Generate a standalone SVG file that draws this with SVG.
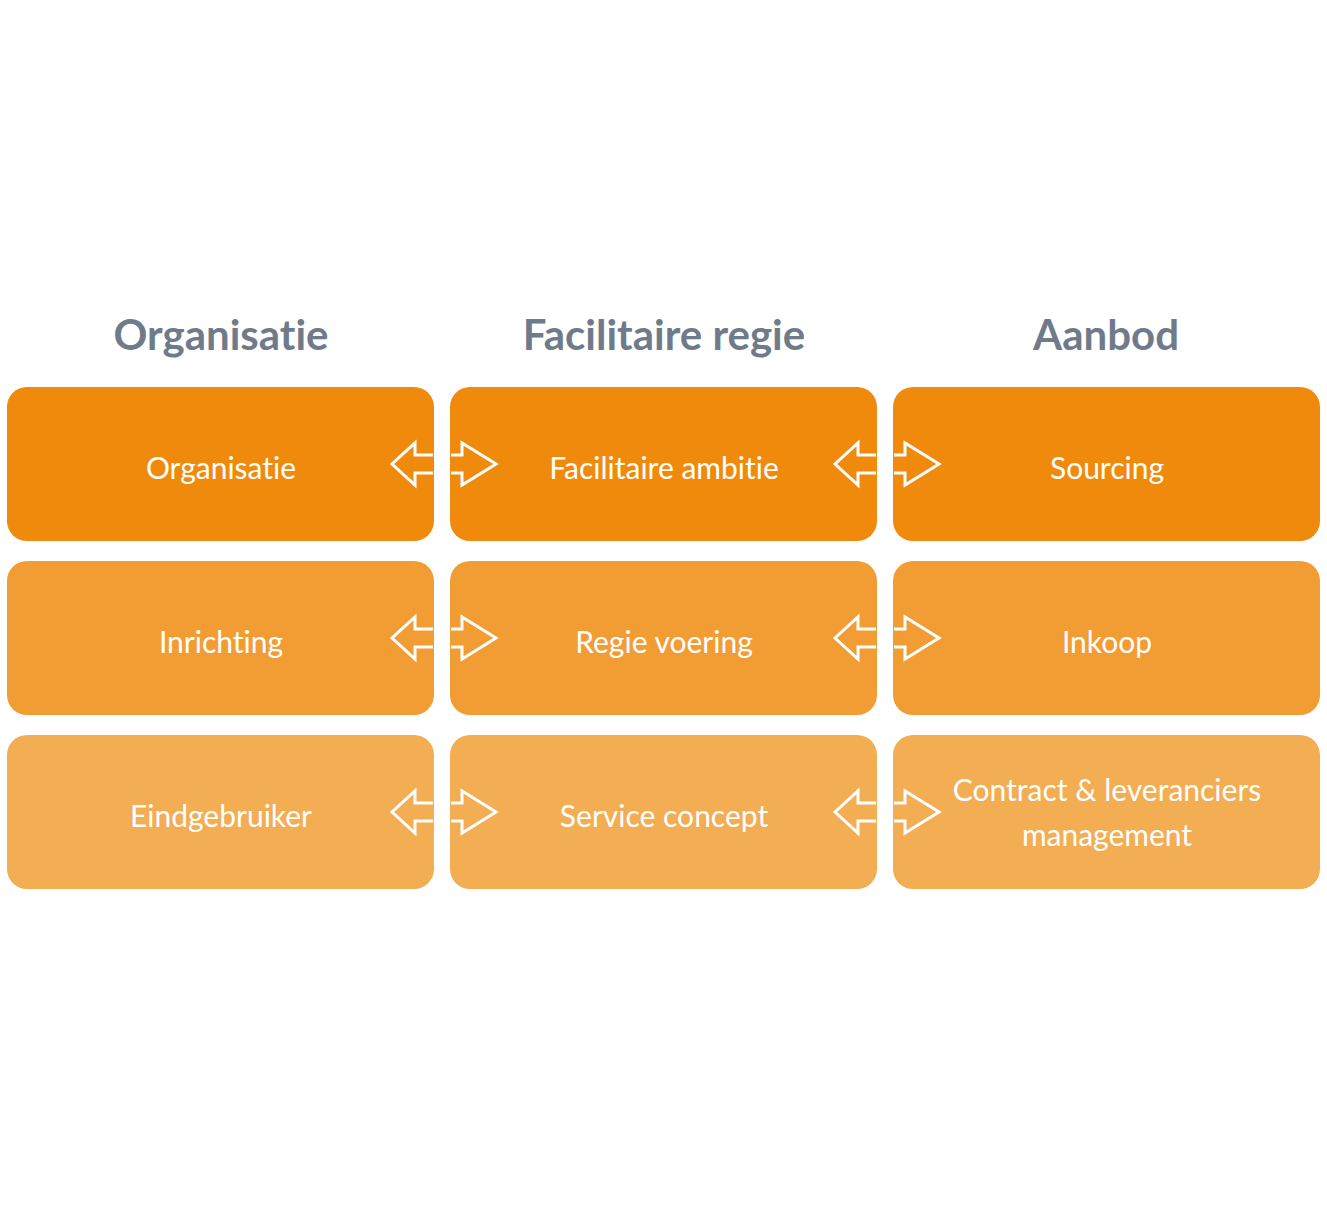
<svg xmlns="http://www.w3.org/2000/svg" width="1327" height="1206" viewBox="0 0 1327 1206">
<style>
.hdr{font-family:Lato,"Open Sans","Liberation Sans",sans-serif;font-weight:700;font-size:42px;fill:#6f7b8a;text-anchor:middle;font-variant-ligatures:none}
.lbl{font-family:Lato,"Open Sans","Liberation Sans",sans-serif;font-size:30px;fill:#ffffff;text-anchor:middle;font-variant-ligatures:none}
.r1{fill:#f08a0d}.r2{fill:#f29d33}.r3{fill:#f3ad53}
.arr{fill:none;stroke:#ffffff;stroke-width:3;stroke-linejoin:miter}
</style>
<rect width="1327" height="1206" fill="#ffffff"/>
<g id="headers">
<text class="hdr" x="221" y="350">Organisatie</text>
<text class="hdr" x="664" y="350">Facilitaire regie</text>
<text class="hdr" x="1106" y="350">Aanbod</text>
</g>
<g id="n-organisatie"><rect class="r1" x="7" y="387" width="427" height="154" rx="20"/><text class="lbl" x="221" y="479">Organisatie</text></g>
<g id="n-facilitaire-ambitie"><rect class="r1" x="450" y="387" width="427" height="154" rx="20"/><text class="lbl" x="664" y="479">Facilitaire ambitie</text></g>
<g id="n-sourcing"><rect class="r1" x="893" y="387" width="427" height="154" rx="20"/><text class="lbl" x="1107" y="479">Sourcing</text></g>
<g id="n-inrichting"><rect class="r2" x="7" y="561" width="427" height="154" rx="20"/><text class="lbl" x="221" y="653">Inrichting</text></g>
<g id="n-regie-voering"><rect class="r2" x="450" y="561" width="427" height="154" rx="20"/><text class="lbl" x="664" y="653">Regie voering</text></g>
<g id="n-inkoop"><rect class="r2" x="893" y="561" width="427" height="154" rx="20"/><text class="lbl" x="1107" y="653">Inkoop</text></g>
<g id="n-eindgebruiker"><rect class="r3" x="7" y="735" width="427" height="154" rx="20"/><text class="lbl" x="221" y="827">Eindgebruiker</text></g>
<g id="n-service-concept"><rect class="r3" x="450" y="735" width="427" height="154" rx="20"/><text class="lbl" x="664" y="827">Service concept</text></g>
<g id="n-contract"><rect class="r3" x="893" y="735" width="427" height="154" rx="20"/><text class="lbl" x="1107" y="801">Contract &amp; leveranciers</text><text class="lbl" x="1107" y="846">management</text></g>
<g id="connectors">
<defs>
<g id="dbl">
<path class="arr" d="M433,455 H415 V443 L392,464 L415,485 V473 H433"/>
<path class="arr" d="M451,455 H462 V443 L496,464 L462,485 V473 H451"/>
</g>
</defs>
<use href="#dbl"/>
<use href="#dbl" x="443"/>
<use href="#dbl" y="174"/>
<use href="#dbl" x="443" y="174"/>
<use href="#dbl" y="348"/>
<use href="#dbl" x="443" y="348"/>
</g>
</svg>
